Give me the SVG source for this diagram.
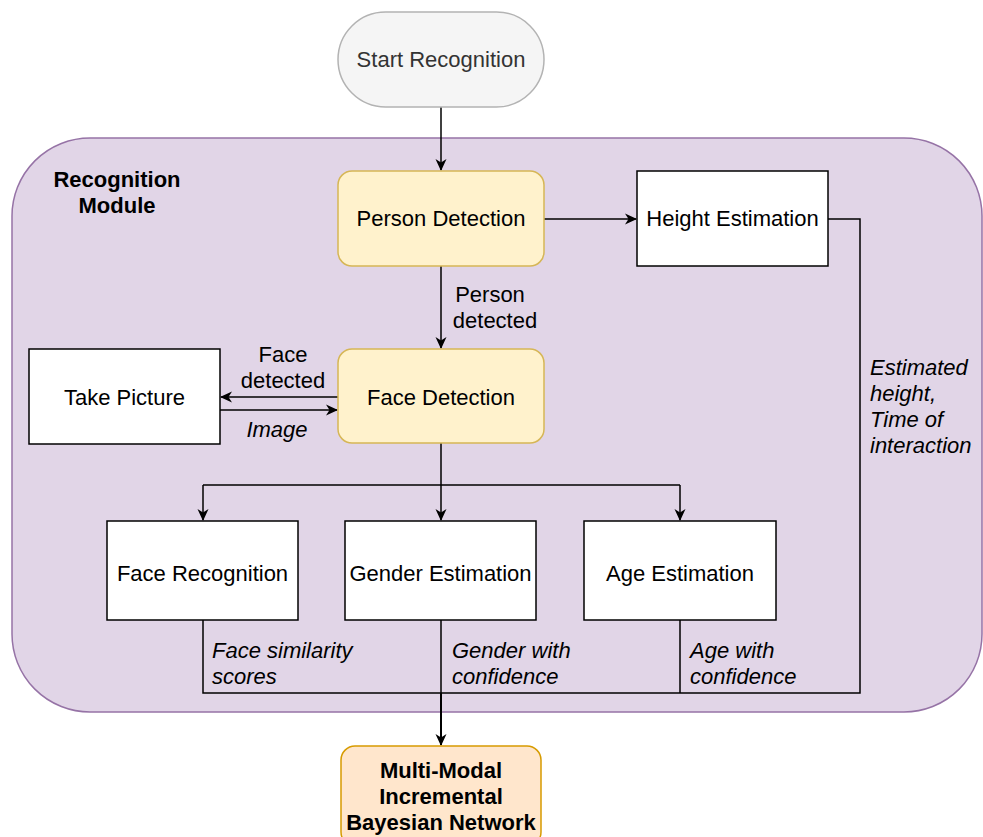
<svg xmlns="http://www.w3.org/2000/svg" width="983" height="837" viewBox="0 0 983 837">
<style>
text{font-family:"Liberation Sans",Arial,Helvetica,sans-serif;font-size:22px;fill:#000}
.c{text-anchor:middle}
.i{font-style:italic}
.b{font-weight:bold}
.box{fill:#fff;stroke:#000;stroke-width:1.5}
.yel{fill:#fff2cc;stroke:#d6b656;stroke-width:1.5}
.ln{fill:none;stroke:#000;stroke-width:1.5}
</style>
<defs>
<marker id="ar" viewBox="0 0 12 12" refX="11" refY="6" markerWidth="12" markerHeight="12" markerUnits="userSpaceOnUse" orient="auto">
<path d="M0,0.5 L12,6 L0,11.5 L3.5,6 Z" fill="#000"/>
</marker>
</defs>
<g id="container">
<rect x="12" y="138" width="970" height="574" rx="78" ry="78" fill="#e1d5e7" stroke="#9673a6" stroke-width="1.5"/>
<text class="c b" x="117" y="187">Recognition</text>
<text class="c b" x="117" y="213">Module</text>
</g>
<g id="connectors">
<path class="ln" d="M441,107 V170" marker-end="url(#ar)"/>
<path class="ln" d="M544,219 H636" marker-end="url(#ar)"/>
<path class="ln" d="M441,266 V348" marker-end="url(#ar)"/>
<path class="ln" d="M338,397 H221" marker-end="url(#ar)"/>
<path class="ln" d="M220,410 H337" marker-end="url(#ar)"/>
<path class="ln" d="M441,443 V485 M203,485 H680"/>
<path class="ln" d="M203,485 V520" marker-end="url(#ar)"/>
<path class="ln" d="M441,485 V520" marker-end="url(#ar)"/>
<path class="ln" d="M680,485 V520" marker-end="url(#ar)"/>
<path class="ln" d="M203,620 V693 H860 V219 H828 M441,620 V693 M680,620 V693"/>
<path class="ln" d="M441,693 V745" style="stroke-width:2" marker-end="url(#ar)"/>
<text class="c" x="490" y="302">Person</text>
<text class="c" x="495" y="328">detected</text>
<text class="c" x="283" y="362">Face</text>
<text class="c" x="283" y="388">detected</text>
<text class="c i" x="277" y="437">Image</text>
<text class="i" x="870" y="375">Estimated</text>
<text class="i" x="870" y="401">height,</text>
<text class="i" x="870" y="427">Time of</text>
<text class="i" x="870" y="453">interaction</text>
<text class="i" x="212" y="658">Face similarity</text>
<text class="i" x="212" y="684">scores</text>
<text class="i" x="452" y="658">Gender with</text>
<text class="i" x="452" y="684">confidence</text>
<text class="i" x="690" y="658">Age with</text>
<text class="i" x="690" y="684">confidence</text>
</g>
<g id="start">
<rect x="338" y="12" width="206" height="95" rx="47.5" ry="47.5" fill="#f5f5f5" stroke="#b3b3b3" stroke-width="1.5"/>
<text class="c" x="441" y="67" style="fill:#333">Start Recognition</text>
</g>
<g id="person">
<rect class="yel" x="338" y="171" width="206" height="95" rx="14" ry="14"/>
<text class="c" x="441" y="226">Person Detection</text>
</g>
<g id="height">
<rect class="box" x="637" y="171" width="191" height="95"/>
<text class="c" x="732.5" y="226">Height Estimation</text>
</g>
<g id="face">
<rect class="yel" x="338" y="349" width="206" height="94" rx="14" ry="14"/>
<text class="c" x="441" y="405">Face Detection</text>
</g>
<g id="picture">
<rect class="box" x="29" y="349" width="191" height="95"/>
<text class="c" x="124.5" y="405">Take Picture</text>
</g>
<g id="facerec">
<rect class="box" x="107" y="521" width="191" height="99"/>
<text class="c" x="202.5" y="581">Face Recognition</text>
</g>
<g id="gender">
<rect class="box" x="345" y="521" width="191" height="99"/>
<text class="c" x="440.5" y="581">Gender Estimation</text>
</g>
<g id="age">
<rect class="box" x="584" y="521" width="192" height="99"/>
<text class="c" x="680" y="581">Age Estimation</text>
</g>
<g id="bayes">
<rect x="341" y="746" width="200" height="100" rx="14" ry="14" fill="#ffe6cc" stroke="#d79b00" stroke-width="1.5"/>
<text class="c b" x="441" y="778">Multi-Modal</text>
<text class="c b" x="441" y="804">Incremental</text>
<text class="c b" x="441" y="830">Bayesian Network</text>
</g>
</svg>
